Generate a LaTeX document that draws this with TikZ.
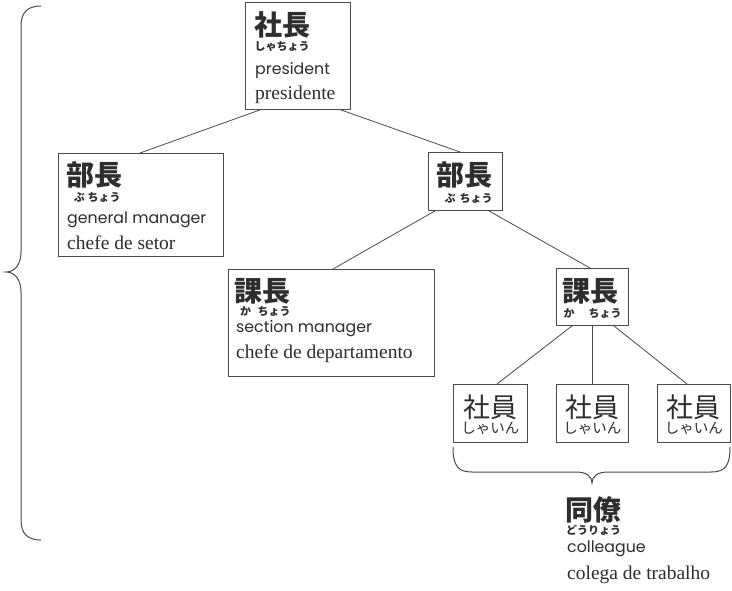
\documentclass[tikz,border=0pt]{standalone}
\usepackage{fontspec}
\setmainfont{Liberation Serif}
\newfontfamily\jp{Noto Sans CJK JP}
\newfontfamily\en{Poppins}
\usetikzlibrary{calc}
\definecolor{ink}{HTML}{2E2E2E}
\definecolor{edge}{HTML}{4A4A4A}
\tikzset{
  box/.style={draw=edge, line width=0.9pt, inner sep=0pt, anchor=north west},
  conn/.style={draw=edge, line width=0.8pt},
  brace/.style={draw=edge, line width=1pt},
  kanji/.style={inner sep=0pt, anchor=west, text=ink, font=\jp\bfseries\fontsize{28}{28}\selectfont},
  kanjir/.style={inner sep=0pt, anchor=center, text=ink, font=\jp\fontsize{27}{27}\selectfont},
  furi/.style={inner sep=0pt, anchor=center, text=ink, font=\jp\bfseries\fontsize{11}{11}\selectfont},
  furir/.style={inner sep=0pt, anchor=center, text=ink, font=\jp\fontsize{14.5}{14.5}\selectfont},
  ensans/.style={inner sep=0pt, anchor=west, text=ink, font=\en\fontsize{15.8}{16}\selectfont},
  enserif/.style={inner sep=0pt, anchor=west, text=ink, font=\fontsize{19.5}{20}\selectfont},
}
\begin{document}
\begin{tikzpicture}[x=1pt,y=-1pt]
\useasboundingbox[fill=white] (0,0) rectangle (732,591);

% boxes
\node[box, minimum width=105pt, minimum height=107pt] (pres) at (245,2) {};
\node[box, minimum width=165pt, minimum height=103pt] (bu1) at (58,153) {};
\node[box, minimum width=74pt, minimum height=58pt] (bu2) at (428,152) {};
\node[box, minimum width=206pt, minimum height=107pt] (ka1) at (228,269) {};
\node[box, minimum width=72pt, minimum height=57pt] (ka2) at (556,268) {};
\node[box, minimum width=74pt, minimum height=58pt] (s1) at (453,384) {};
\node[box, minimum width=72pt, minimum height=58pt] (s2) at (556,384) {};
\node[box, minimum width=73pt, minimum height=58pt] (s3) at (657,384) {};

% president
\node[kanji] (t1) at (254,25) {社長};
\node[furi] (f1) at (282,47) {しゃちょう};
\node[ensans] (e1) at (255,71) {president};
\node[enserif] (p1) at (255,95) {presidente};

% left bucho
\node[kanji] (t2) at (66,175.5) {部長};
\node[furi] (f2a) at (79.5,197.5) {ぶ};
\node[furi] (f2b) at (104,197.5) {ちょう};
\node[ensans] (e2) at (67,220) {general manager};
\node[enserif] (p2) at (67,243) {chefe de setor};

% right bucho
\node[kanji] (t3) at (436,175.5) {部長};
\node[furi] (f3a) at (450,198) {ぶ};
\node[furi] (f3b) at (476,198) {ちょう};

% left kacho
\node[kanji] (t4) at (234,291) {課長};
\node[furi] (f4a) at (245.5,311) {か};
\node[furi] (f4b) at (274,311) {ちょう};
\node[ensans] (e4) at (236,329) {section manager};
\node[enserif] (p4) at (236,354) {chefe de departamento};

% right kacho
\node[kanji] (t5) at (562,291.5) {課長};
\node[furi] (f5a) at (569,313) {か};
\node[furi] (f5b) at (605,313) {ちょう};

% shain
\foreach \b/\n in {s1/a, s2/b, s3/c}{
  \node[kanjir] (k\n) at ($(\b.north)+(0,23)$) {社員};
  \node[furir] (r\n) at ($(\b.north)+(0,44)$) {しゃいん};
}

% doryo
\node[kanji] (t6) at (565,510) {同僚};
\node[furi, anchor=west] (f6) at (566,530.5) {どうりょう};
\node[ensans] (e6) at (567,548.5) {colleague};
\node[enserif] (p6) at (567,575) {colega de trabalho};

% connectors
\draw[conn] ($(pres.south west)+(15,0)$) -- ($(bu1.north west)+(82,0)$);
\draw[conn] ($(pres.south east)+(-10,0)$) -- ($(bu2.north west)+(32,0)$);
\draw[conn] ($(bu2.south west)+(7,0)$) -- ($(ka1.north west)+(105,0)$);
\draw[conn] ($(bu2.south east)+(-14,0)$) -- ($(ka2.north west)+(34,0)$);
\draw[conn] ($(ka2.south west)+(16,0)$) -- ($(s1.north west)+(44,0)$);
\draw[conn] (ka2.south) -- (s2.north);
\draw[conn] ($(ka2.south east)+(-15,0)$) -- ($(s3.north west)+(30,0)$);

% bottom brace
\coordinate (bl) at (453,447);
\coordinate (br) at (730,447);
\coordinate (bt) at (592,483);
\draw[brace] (bl) .. controls (453,466) and (458,472) .. (472,472)
  -- (576,472) .. controls (586,472) and (592,476) .. (bt)
  .. controls (592,476) and (598,472) .. (608,472)
  -- (711,472) .. controls (725,472) and (730,466) .. (br);

% left brace
\coordinate (lt) at (41,6);
\coordinate (lb) at (41,540);
\coordinate (lm) at (6,272);
\draw[brace] (lt) .. controls (28,6) and (21,12) .. (21,26)
  -- (21,252) .. controls (21,264) and (15,272) .. (lm)
  .. controls (15,272) and (21,280) .. (21,292)
  -- (21,520) .. controls (21,534) and (28,540) .. (lb);
\end{tikzpicture}
\end{document}
